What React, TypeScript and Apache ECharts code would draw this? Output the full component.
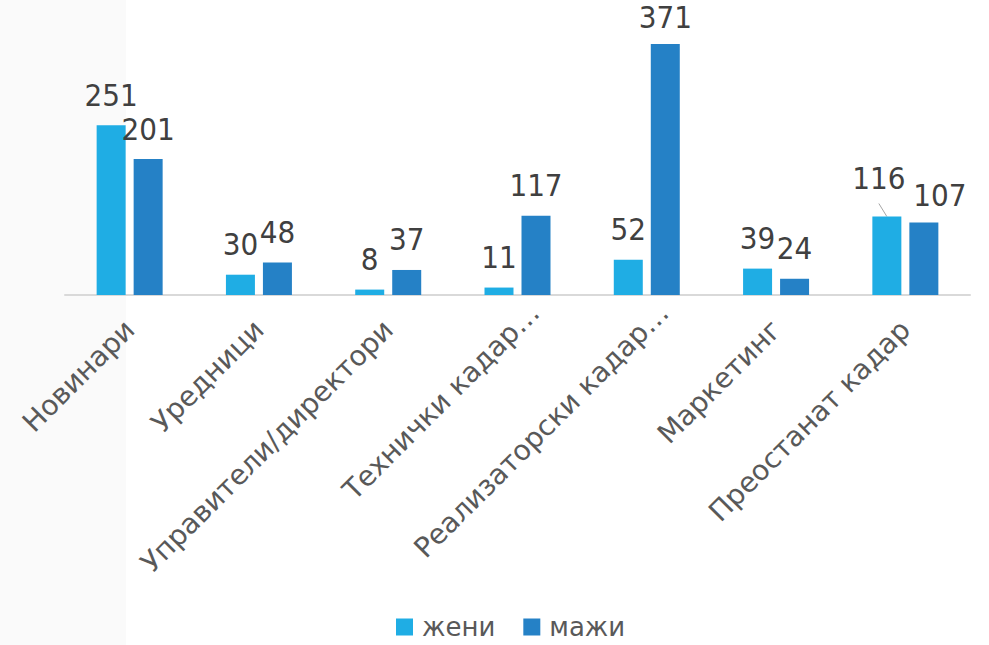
import React, { useEffect, useRef } from "react";
import * as echarts from "echarts";

const categories = [
  "Новинари",
  "Уредници",
  "Управители/директори",
  "Технички кадар…",
  "Реализаторски кадар…",
  "Маркетинг",
  "Преостанат кадар",
];
const zeni = [251, 30, 8, 11, 52, 39, 116];
const mazi = [201, 48, 37, 117, 371, 24, 107];
const seriesNames = ["жени", "мажи"];

const FONT_C = "'DejaVu Sans Condensed', 'DejaVu Sans', sans-serif";
const FONT = "'DejaVu Sans', sans-serif";
const BAR_W = 29;
const BAR_GAP = 8;

export default function App() {
  const ref = useRef<HTMLDivElement>(null);
  useEffect(() => {
    const chart = echarts.init(ref.current!, null, { renderer: "svg" });
    const labelBase = {
      show: true,
      position: "top" as const,
      fontSize: 31,
      color: "#404040",
      fontFamily: FONT_C,
      distance: 15,
    };
    chart.setOption({
      animation: false,
      backgroundColor: "#ffffff",
      grid: { left: 65, right: 19, top: 44, bottom: 350, containLabel: false },
      legend: {
        bottom: 0,
        left: 391,
        itemWidth: 17,
        itemHeight: 17,
        itemGap: 28,
        icon: "rect",
        textStyle: { fontSize: 26, color: "#595959", fontFamily: FONT, padding: [0, 0, 0, 4] },
        data: seriesNames,
      },
      xAxis: {
        type: "category",
        data: categories.map((c) =>
          c.endsWith("…") ? { value: c, textStyle: { padding: [0, -24, 0, 0] } } : c
        ),
        axisLine: { show: true, lineStyle: { color: "#d9d9d9", width: 2 } },
        axisTick: { show: false },
        axisLabel: {
          rotate: 45,
          interval: 0,
          fontSize: 28,
          color: "#595959",
          fontFamily: FONT,
          margin: 30,
        },
      },
      yAxis: {
        type: "value",
        min: 0,
        max: 371,
        show: false,
        splitLine: { show: false },
      },
      series: [
        {
          name: seriesNames[0],
          type: "bar",
          data: zeni.map((v, i) =>
            i === 6 ? { value: v, label: { offset: [-8, -8] } } : v
          ),
          barWidth: BAR_W,
          barGap: (BAR_GAP / BAR_W) * 100 + "%",
          itemStyle: { color: "#1fade4" },
          label: labelBase,
        },
        {
          name: seriesNames[1],
          type: "bar",
          data: mazi.map((v, i) =>
            i === 6
              ? { value: v, label: { offset: [16, 3] } }
              : i === 4
              ? { value: v, label: { distance: 12 } }
              : v
          ),
          barWidth: BAR_W,
          itemStyle: { color: "#2581c6" },
          label: labelBase,
        },
      ],
    });
    const bg = {
      type: "rect",
      left: 0,
      top: 0,
      shape: { width: 126, height: 645 },
      style: { fill: "#fafafa" },
      z: -10,
      silent: true,
    };
    // leader line for the moved "116" label, placed from the axis scale
    const p = chart.convertToPixel({ xAxisIndex: 0, yAxisIndex: 0 }, [6, zeni[6]]) as number[];
    const graphics: any[] = [bg];
    if (p) {
      const bx = p[0] - (BAR_W + BAR_GAP) / 2;
      graphics.push({
        type: "line",
        shape: { x1: bx - 8, y1: p[1] - 13, x2: bx, y2: p[1] },
        style: { stroke: "#a6a6a6", lineWidth: 1 },
        silent: true,
      });
    }
    chart.setOption({ graphic: graphics });
    return () => chart.dispose();
  }, []);
  return <div ref={ref} style={{ width: 989, height: 645, position: "absolute", left: 0, top: 0 }} />;
}
